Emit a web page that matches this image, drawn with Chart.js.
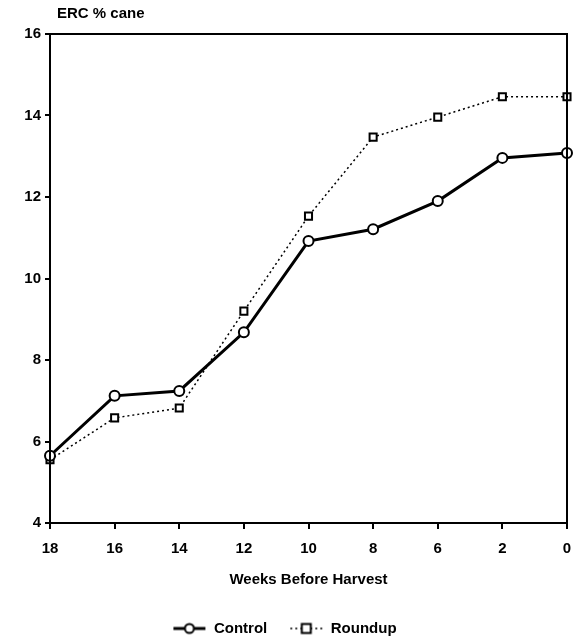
<!DOCTYPE html>
<html>
<head>
<meta charset="utf-8">
<script src="https://cdn.jsdelivr.net/npm/chart.js@4.4.1/dist/chart.umd.min.js"></script>
<style>
  html, body { margin: 0; padding: 0; background: #fff; }
  #wrap { width: 574px; height: 642px; }
</style>
</head>
<body>
<div id="wrap"><canvas id="erc"></canvas></div>
<script>
// Weeks before harvest (category axis, equally spaced)
const weeks = ['18', '16', '14', '12', '10', '8', '6', '2', '0'];
const controlValues = [5.65, 7.12, 7.24, 8.68, 10.92, 11.21, 11.9, 12.96, 13.08];
const roundupValues = [5.55, 6.58, 6.82, 9.2, 11.53, 13.47, 13.96, 14.46, 14.46];
const yTicks = [4, 6, 8, 10, 12, 14, 16];

const FONT = 'Liberation Sans, Arial, sans-serif';

// small legend swatch: line + marker
function swatch(dash, width, marker) {
    const c = document.createElement('canvas');
    c.width = 34; c.height = 14;
    const g = c.getContext('2d');
    g.strokeStyle = '#000';
    g.lineWidth = width;
    g.setLineDash(dash);
    g.beginPath(); g.moveTo(1, 7); g.lineTo(33, 7); g.stroke();
    g.setLineDash([]);
    g.lineWidth = 2;
    g.fillStyle = '#fff';
    if (marker === 'circle') {
        g.beginPath(); g.arc(17, 7, 4.5, 0, Math.PI * 2); g.fill(); g.stroke();
    } else {
        g.fillRect(12.5, 2.5, 9, 9); g.strokeRect(12.5, 2.5, 9, 9);
    }
    return c;
}

// frame around the plot + y-axis caption
const framePlugin = {
    id: 'frame',
    afterDraw(chart) {
        const a = chart.chartArea, ctx = chart.ctx;
        ctx.save();
        ctx.strokeStyle = '#000';
        ctx.lineWidth = 2;
        ctx.strokeRect(a.left, a.top, a.right - a.left, a.bottom - a.top);
        ctx.fillStyle = '#000';
        ctx.font = 'bold 15px ' + FONT;
        ctx.textBaseline = 'middle';
        ctx.fillText('ERC % cane', a.left + 7, a.top - 20);
        ctx.restore();
    }
};

new Chart(document.getElementById('erc'), {
    type: 'line',
    data: {
        labels: weeks,
        datasets: [{
            label: 'Control',
            data: controlValues,
            borderColor: '#000',
            borderWidth: 3,
            pointStyle: 'circle',
            pointRadius: 5,
            pointBorderWidth: 2,
            pointBackgroundColor: '#fff',
            pointBorderColor: '#000',
            tension: 0
        }, {
            label: 'Roundup',
            data: roundupValues,
            borderColor: '#000',
            borderWidth: 1.5,
            borderDash: [2, 3],
            pointStyle: 'rect',
            pointRadius: 5,
            pointBorderWidth: 2,
            pointBackgroundColor: '#fff',
            pointBorderColor: '#000',
            tension: 0
        }]
    },
    options: {
        responsive: true,
        maintainAspectRatio: false,
        animation: false,
        layout: { padding: { top: 34, right: 5, left: 0, bottom: -4 } },
        scales: {
            x: {
                offset: false,
                afterFit: s => { s.paddingRight = 0; s.paddingLeft = 0; },
                grid: { drawOnChartArea: false, tickLength: 6, color: '#000', lineWidth: 2 },
                border: { color: '#000', width: 2 },
                ticks: { color: '#000', font: { family: FONT, size: 15, weight: 'bold' }, padding: 11, maxRotation: 0 },
                title: { display: true, text: 'Weeks Before Harvest', color: '#000', font: { family: FONT, size: 15, weight: 'bold' }, padding: { top: 2, bottom: 10 } }
            },
            y: {
                min: 4, max: 16,
                afterBuildTicks: s => { s.ticks = yTicks.map(v => ({ value: v })); },
                afterFit: s => { s.width = 50; },
                grid: { drawOnChartArea: false, tickLength: 5, color: '#000', lineWidth: 2 },
                border: { color: '#000', width: 2 },
                ticks: { color: '#000', font: { family: FONT, size: 15, weight: 'bold' }, padding: 4 }
            }
        },
        plugins: {
            legend: {
                position: 'bottom',
                labels: {
                    color: '#000',
                    font: { family: FONT, size: 15, weight: 'bold' },
                    usePointStyle: true,
                    pointStyleWidth: 34,
                    padding: 22,
                    generateLabels: chart => chart.data.datasets.map((ds, i) => ({
                        text: ds.label,
                        datasetIndex: i,
                        pointStyle: i === 0 ? swatch([], 3, 'circle') : swatch([2, 3], 1.5, 'rect'),
                        fontColor: '#000',
                        hidden: false
                    }))
                }
            },
            tooltip: { enabled: false }
        }
    },
    plugins: [framePlugin]
});
</script>
</body>
</html>
